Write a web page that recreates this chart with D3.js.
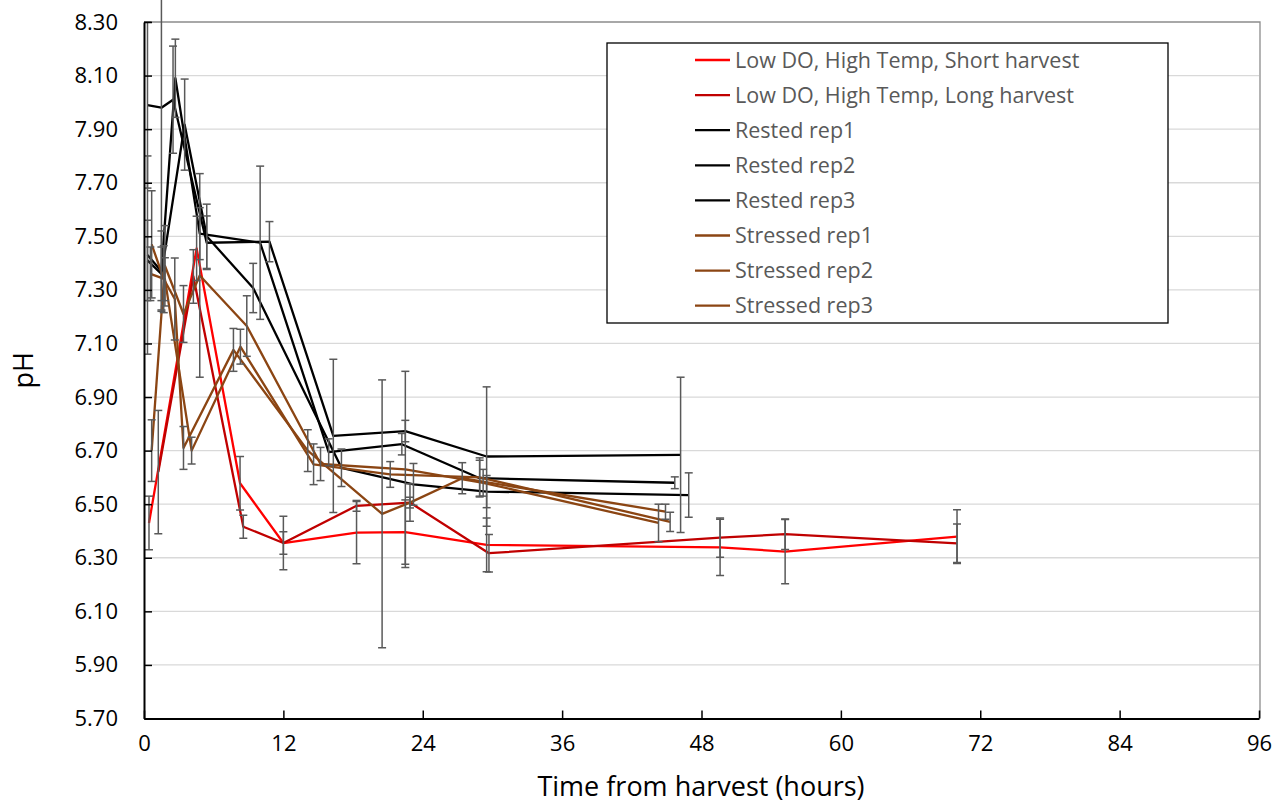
<!DOCTYPE html>
<html><head><meta charset="utf-8">
<script src="https://cdn.jsdelivr.net/npm/d3@7"></script>
<style>body{margin:0;background:#fff}svg{display:block}</style>
</head><body><svg id="c" width="1287" height="803"></svg>
<script>
// ---------- data ----------
const yTicks = [5.70,5.90,6.10,6.30,6.50,6.70,6.90,7.10,7.30,7.50,7.70,7.90,8.10,8.30];
const xTicks = [0,12,24,36,48,60,72,84,96];
const seriesNames = ["Low DO, High Temp, Short harvest","Low DO, High Temp, Long harvest","Rested rep1","Rested rep2","Rested rep3","Stressed rep1","Stressed rep2","Stressed rep3"];
const seriesColors = ["#ff0000","#c00000","#000000","#000000","#000000","#8b4513","#8b4513","#8b4513"];

const shortT = [0.43, 4.53, 8.27, 12.0, 18.3, 22.5, 29.5, 49.6, 55.2, 70.0];
const shortPH = [6.43, 7.455, 6.578, 6.355, 6.394, 6.396, 6.348, 6.339, 6.323, 6.379];
const shortErr = [0.10, 0.12, 0.10, 0.10, 0.116, 0.12, 0.10, 0.105, 0.12, 0.10];

const longT = [1.23, 4.25, 8.55, 12.0, 18.3, 22.9, 29.7, 49.6, 55.2, 70.0];
const longPH = [6.62, 7.35, 6.416, 6.355, 6.494, 6.506, 6.317, 6.375, 6.388, 6.354];
const longErr = [0.23, 0.10, 0.043, 0.042, 0.02, 0.02, 0.07, 0.073, 0.057, 0.072];

const rest1T = [0.3, 1.5, 2.5, 5.4, 10.8, 16.3, 22.5, 29.5, 46.2];
const rest1PH = [7.99, 7.98, 8.01, 7.476, 7.48, 6.755, 6.773, 6.678, 6.684];
const rest1Err = [0.31, 0.755, 0.20, 0.10, 0.075, 0.286, 0.04, 0.26, 0.29];

const rest2T = [0.3, 1.5, 2.7, 4.8, 10.0, 15.9, 22.2, 28.9, 45.7];
const rest2PH = [7.43, 7.37, 8.09, 7.51, 7.476, 6.694, 6.724, 6.597, 6.58];
const rest2Err = [0.37, 0.15, 0.146, 0.097, 0.286, 0.05, 0.04, 0.067, 0.022];

const rest3T = [0.3, 1.5, 3.5, 5.4, 9.4, 17.0, 23.2, 29.5, 46.9];
const rest3PH = [7.41, 7.36, 7.917, 7.50, 7.307, 6.636, 6.574, 6.547, 6.534];
const rest3Err = [0.15, 0.10, 0.17, 0.12, 0.092, 0.07, 0.078, 0.06, 0.083];

const str1T = [0.66, 1.7, 2.65, 3.4, 7.7, 14.1, 20.5, 22.9, 27.4, 44.9];
const str1PH = [7.47, 7.34, 7.266, 6.71, 7.076, 6.70, 6.464, 6.506, 6.597, 6.472];
const str1Err = [0.20, 0.125, 0.153, 0.08, 0.08, 0.078, 0.50, 0.07, 0.058, 0.028];

const str2T = [0.55, 1.8, 4.1, 8.3, 14.6, 21.2, 28.9, 45.3];
const str2PH = [7.36, 7.34, 6.70, 7.088, 6.649, 6.611, 6.60, 6.434];
const str2Err = [0.10, 0.08, 0.05, 0.065, 0.076, 0.048, 0.073, 0.036];

const str3T = [0.66, 1.8, 3.4, 4.8, 8.85, 15.2, 22.5, 29.2, 44.3];
const str3PH = [6.70, 7.39, 7.21, 7.354, 7.165, 6.65, 6.63, 6.58, 6.43];
const str3Err = [0.115, 0.15, 0.106, 0.38, 0.113, 0.062, 0.366, 0.05, 0.07];

const seriesT = [shortT,longT,rest1T,rest2T,rest3T,str1T,str2T,str3T];
const seriesPH = [shortPH,longPH,rest1PH,rest2PH,rest3PH,str1PH,str2PH,str3PH];
const seriesErr = [shortErr,longErr,rest1Err,rest2Err,rest3Err,str1Err,str2Err,str3Err];

// ---------- chart ----------
const svg = d3.select("#c");
const L=144, R=1259, T=22, B=718.5;
const x = d3.scaleLinear().domain([0,96]).range([L,R]);
const y = d3.scaleLinear().domain([5.7,8.3]).range([B,T]);
const font = "'Open Sans','Noto Sans',sans-serif";

// gridlines
svg.append("g").selectAll("line").data(yTicks.filter(v=>v>5.71 && v<8.29)).join("line")
  .attr("x1",L).attr("x2",R).attr("y1",d=>y(d)).attr("y2",d=>y(d))
  .attr("stroke","#d9d9d9").attr("stroke-width",1.3);
// plot border top/right
svg.append("path").attr("d",`M${L},${T}H${R+1}V${B}`).attr("fill","none").attr("stroke","#8c8c8c").attr("stroke-width",1.3);

svg.append("defs").append("clipPath").attr("id","pc").append("rect")
  .attr("x",L).attr("y",0).attr("width",R-L+2).attr("height",B);

const plot = svg.append("g").attr("clip-path","url(#pc)");

const line = d3.line().x(d=>x(d[0])).y(d=>y(d[1]));
seriesT.forEach((ts,i)=>{
  const pts = ts.map((t,j)=>[t,seriesPH[i][j],seriesErr[i][j]]);
  plot.append("path").datum(pts).attr("d",line).attr("fill","none")
    .attr("stroke",seriesColors[i]).attr("stroke-width",2.3).attr("stroke-linejoin","round");
});
seriesT.forEach((ts,i)=>{
  const pts = ts.map((t,j)=>[t,seriesPH[i][j],seriesErr[i][j]]);
  const g = plot.append("g").attr("stroke","#595959").attr("stroke-width",1.5);
  pts.forEach(p=>{
    const xx=x(p[0]), y1=y(p[1]+p[2]), y2=y(p[1]-p[2]);
    g.append("line").attr("x1",xx).attr("x2",xx).attr("y1",y1).attr("y2",y2);
    g.append("line").attr("x1",xx-4).attr("x2",xx+4).attr("y1",y1).attr("y2",y1);
    g.append("line").attr("x1",xx-4).attr("x2",xx+4).attr("y1",y2).attr("y2",y2);
  });
});

// axes
const yAxis = d3.axisLeft(y).tickValues(yTicks).tickFormat(d3.format(".2f")).tickSizeInner(-8).tickSizeOuter(0).tickPadding(26);
const gy = svg.append("g").attr("transform",`translate(${L},0)`).call(yAxis);
const xAxis = d3.axisBottom(x).tickValues(xTicks).tickSizeInner(-8).tickSizeOuter(0).tickPadding(17);
const gx = svg.append("g").attr("transform",`translate(0,${B})`).call(xAxis);
[gx,gy].forEach(g=>{
  g.select(".domain").attr("stroke","#000").attr("stroke-width",2);
  g.selectAll(".tick line").attr("stroke","#000").attr("stroke-width",1.5);
  g.selectAll("text").attr("font-family",font).attr("font-size",22).attr("fill","#000");
});

// axis titles
svg.append("text").attr("x",701).attr("y",796).attr("text-anchor","middle")
  .attr("font-family",font).attr("font-size",27).attr("fill","#000").text("Time from harvest (hours)");
svg.append("text").attr("transform",`translate(33,${(T+B)/2}) rotate(-90)`).attr("text-anchor","middle")
  .attr("font-family",font).attr("font-size",27).attr("fill","#000").text("pH");

// legend
const lg = svg.append("g");
lg.append("rect").attr("x",607).attr("y",43).attr("width",561).attr("height",280)
  .attr("fill","#fff").attr("stroke","#000").attr("stroke-width",1.3);
seriesNames.forEach((n,i)=>{
  const yy = 60 + i*35.1;
  lg.append("line").attr("x1",695).attr("x2",730).attr("y1",yy).attr("y2",yy)
    .attr("stroke",seriesColors[i]).attr("stroke-width",2.3);
  lg.append("text").attr("x",735).attr("y",yy).attr("dy","0.35em")
    .attr("font-family",font).attr("font-size",21.5).attr("fill","#595959").text(n);
});
</script></body></html>
